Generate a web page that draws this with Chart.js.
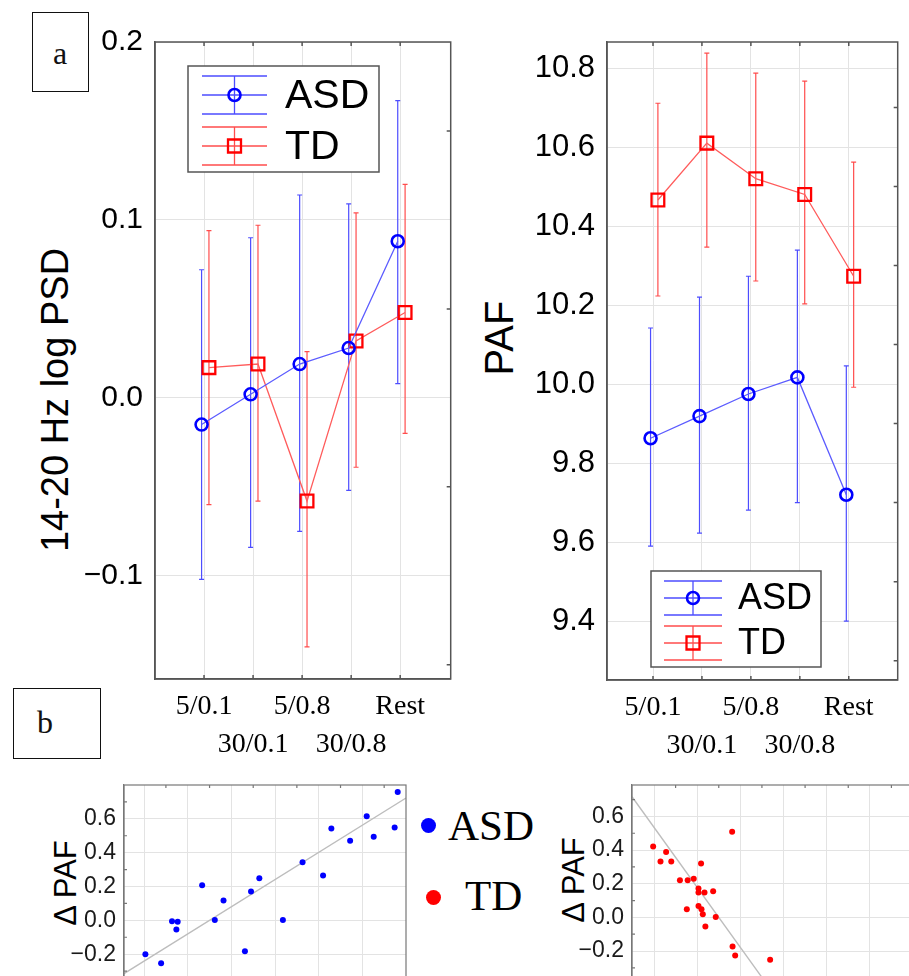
<!DOCTYPE html>
<html>
<head>
<meta charset="utf-8">
<script src="https://cdn.jsdelivr.net/npm/chart.js@4.4.1/dist/chart.umd.min.js"></script>
<style>
  html, body { margin: 0; width: 909px; height: 976px; overflow: hidden; background: #fff; }
  .pos { position: absolute; }
  .tag { position: absolute; box-sizing: border-box; border: 1.5px solid #111; font-family: "Liberation Serif", serif; font-size: 32px; color: #111; }
  .ytitle { position: absolute; transform: translate(-50%, -50%) rotate(-90deg); white-space: nowrap; font-family: "Liberation Sans", Arial, sans-serif; color: #000; line-height: 1; }
  .dot { position: absolute; border-radius: 50%; width: 15px; height: 15px; }
  .lg { position: absolute; font-family: "Liberation Serif", serif; font-size: 43px; line-height: 1; color: #000; }
</style>
</head>
<body>
<div class="tag" style="left:32px;top:12px;width:57px;height:80px;">
  <span style="position:absolute;left:20px;top:22px;">a</span>
</div>
<div class="tag" style="left:13px;top:688px;width:88px;height:71px;">
  <span style="position:absolute;left:23px;top:15px;">b</span>
</div>

<div class="ytitle" style="left:55px;top:400px;font-size:38px;">14-20 Hz log PSD</div>
<div class="ytitle" style="left:499px;top:338px;font-size:40px;">PAF</div>
<div class="ytitle" style="left:65px;top:883px;font-size:31px;">Δ PAF</div>
<div class="ytitle" style="left:573px;top:880px;font-size:31px;">Δ PAF</div>

<div class="dot" style="left:421px;top:818px;background:#0000ff;"></div>
<div class="lg" style="left:448px;top:804px;">ASD</div>
<div class="dot" style="left:426px;top:890px;background:#ff0000;"></div>
<div class="lg" style="left:465px;top:874px;">TD</div>

<canvas id="psdChart" class="pos" style="left:80px;top:0;" width="382" height="760"></canvas>
<canvas id="pafChart" class="pos" style="left:520px;top:0;" width="389" height="760"></canvas>
<canvas id="asdScatter" class="pos" style="left:40px;top:760px;" width="370" height="230"></canvas>
<canvas id="tdScatter" class="pos" style="left:548px;top:760px;" width="369" height="230"></canvas>

<script>
// ---- data ----
const conditions = ['5/0.1', '30/0.1', '5/0.8', '30/0.8', 'Rest'];

const psdAsd     = [-0.015, 0.002, 0.019, 0.028, 0.088];
const psdAsdLow  = [-0.102, -0.084, -0.075, -0.052, 0.008];
const psdAsdHigh = [0.072, 0.090, 0.114, 0.109, 0.167];
const psdTd      = [0.017, 0.019, -0.058, 0.032, 0.048];
const psdTdLow   = [-0.060, -0.058, -0.140, -0.039, -0.020];
const psdTdHigh  = [0.094, 0.097, 0.026, 0.104, 0.120];

const pafAsd     = [9.863, 9.919, 9.975, 10.017, 9.720];
const pafAsdLow  = [9.590, 9.623, 9.681, 9.700, 9.400];
const pafAsdHigh = [10.142, 10.220, 10.273, 10.339, 10.046];
const pafTd      = [10.466, 10.610, 10.520, 10.480, 10.273];
const pafTdLow   = [10.223, 10.347, 10.261, 10.203, 9.992];
const pafTdHigh  = [10.711, 10.838, 10.787, 10.767, 10.562];

const psdTicks  = [-0.1, 0, 0.1, 0.2];
const pafTicks  = [9.4, 9.6, 9.8, 10.0, 10.2, 10.4, 10.6, 10.8];
const dPafTicks = [-0.2, 0, 0.2, 0.4, 0.6];

const asdX = [5.81, 5.10, 4.29, 5.74, 4.72, 5.26, 3.63, 4.10, 2.64, 2.45, 1.33, 1.82, 1.62, 3.18, 0.64, 0.77, 0.74, 2.31, 0.03, 0.39];
const asdY = [0.758, 0.616, 0.543, 0.549, 0.471, 0.494, 0.344, 0.265, 0.249, 0.170, 0.207, 0.118, 0.002, 0.002, -0.006, -0.008, -0.054, -0.182, -0.201, -0.253];
const asdFitX = [-0.46, 6.0];
const asdFitY = [-0.315, 0.723];

const tdX = [-0.02, 0.28, 0.15, 0.40, 1.09, 1.81, 0.60, 0.78, 0.92, 1.03, 1.03, 1.17, 1.37, 0.76, 1.03, 1.10, 1.13, 1.43, 1.19, 1.82, 1.88, 2.69];
const tdY = [0.422, 0.389, 0.332, 0.332, 0.321, 0.509, 0.220, 0.220, 0.229, 0.171, 0.148, 0.148, 0.156, 0.049, 0.068, 0.049, 0.019, 0.002, -0.054, -0.173, -0.226, -0.252];
const tdFitX = [-0.51, 2.5];
const tdFitY = [0.717, -0.357];

// small horizontal dodge so the two groups don't overlap
const asdShift = -0.05;
const tdShift = 0.1;

const fmt = (v, d) => (v < 0 ? '\u2212' : '') + Math.abs(v).toFixed(d);
const pts = (xs, ys) => xs.map((x, i) => ({ x, y: ys[i] }));
const dodge = (vals, shift) => vals.map((y, i) => ({ x: i + 1 + shift, y }));

// ---- plugins ----
const errorBars = {
  id: 'errorBars',
  beforeDatasetsDraw(chart) {
    const ctx = chart.ctx;
    const ys = chart.scales.y;
    chart.data.datasets.forEach((ds, i) => {
      if (!ds.errLow) return;
      const meta = chart.getDatasetMeta(i);
      ctx.save();
      ctx.strokeStyle = ds.errColor;
      ctx.lineWidth = 1.2;
      ctx.beginPath();
      meta.data.forEach((p, j) => {
        const top = ys.getPixelForValue(ds.errHigh[j]);
        const bot = ys.getPixelForValue(ds.errLow[j]);
        ctx.moveTo(p.x, top); ctx.lineTo(p.x, bot);
        ctx.moveTo(p.x - 2.5, top); ctx.lineTo(p.x + 2.5, top);
        ctx.moveTo(p.x - 2.5, bot); ctx.lineTo(p.x + 2.5, bot);
      });
      ctx.stroke();
      ctx.restore();
    });
  }
};

const frame = {
  id: 'frame',
  afterDatasetsDraw(chart, args, o) {
    const { ctx, chartArea: a, scales } = chart;
    const len = o.len || 4;
    ctx.save();
    ctx.strokeStyle = o.color || '#555';
    ctx.lineWidth = o.width || 1.5;
    ctx.strokeRect(a.left, a.top, a.right - a.left, a.bottom - a.top);
    ctx.beginPath();
    (o.top || []).forEach(v => { const x = scales.x.getPixelForValue(v); ctx.moveTo(x, a.top); ctx.lineTo(x, a.top + len); });
    (o.bottom || []).forEach(v => { const x = scales.x.getPixelForValue(v); ctx.moveTo(x, a.bottom); ctx.lineTo(x, a.bottom - len); });
    (o.right || []).forEach(v => { const y = scales.y.getPixelForValue(v); ctx.moveTo(a.right, y); ctx.lineTo(a.right - len, y); });
    (o.left || []).forEach(v => { const y = scales.y.getPixelForValue(v); ctx.moveTo(a.left, y); ctx.lineTo(a.left + len, y); });
    ctx.stroke();
    ctx.restore();
  }
};

// boxed legend drawn inside the plot, like the original figure
const boxLegend = {
  id: 'boxLegend',
  afterDraw(chart, args, o) {
    if (!o.rows) return;
    const ctx = chart.ctx;
    ctx.save();
    ctx.fillStyle = '#fff';
    ctx.fillRect(o.x, o.y, o.w, o.h);
    ctx.strokeStyle = '#555';
    ctx.lineWidth = 1.5;
    ctx.strokeRect(o.x, o.y, o.w, o.h);
    const cx = (o.sx0 + o.sx1) / 2;
    o.rows.forEach(r => {
      const ds = chart.data.datasets[r.ds];
      ctx.strokeStyle = ds.errColor;
      ctx.lineWidth = 1.3;
      ctx.beginPath();
      [-o.cap, 0, o.cap].forEach(d => { ctx.moveTo(o.sx0, r.y + d); ctx.lineTo(o.sx1, r.y + d); });
      ctx.moveTo(cx, r.y - o.cap); ctx.lineTo(cx, r.y + o.cap);
      ctx.stroke();
      ctx.strokeStyle = ds.pointBorderColor;
      ctx.lineWidth = ds.pointBorderWidth;
      ctx.beginPath();
      if (ds.pointStyle === 'rect') ctx.rect(cx - 6.5, r.y - 6.5, 13, 13);
      else ctx.arc(cx, r.y, 6, 0, Math.PI * 2);
      ctx.stroke();
      ctx.fillStyle = '#000';
      ctx.font = o.font;
      ctx.textBaseline = 'alphabetic';
      ctx.fillText(ds.label, o.tx, r.y + o.base);
    });
    ctx.restore();
  }
};

const grid = { color: '#e3e3e3', drawTicks: false, lineWidth: 1 };
const border = { color: '#555', width: 1.5 };

// keep the plot area exactly where the layout padding puts it
const noEdgePadding = s => { s.paddingTop = 0; s.paddingBottom = 0; s.paddingLeft = 0; s.paddingRight = 0; };

function groupDataset(label, values, low, high, shift, style) {
  const blue = style === 'circle';
  return {
    label,
    data: dodge(values, shift),
    errLow: low,
    errHigh: high,
    errColor: blue ? '#4d4dff' : '#ff4d4d',
    borderColor: blue ? '#5c5cff' : '#ff5c5c',
    borderWidth: 1.3,
    showLine: true,
    pointStyle: style,
    pointRadius: blue ? 6 : 9,
    pointBorderWidth: blue ? 2.6 : 2.3,
    pointBorderColor: blue ? '#0000ff' : '#ff0000',
    pointBackgroundColor: 'rgba(0,0,0,0)'
  };
}

function xConditions(min, max, height) {
  return {
    type: 'linear', min, max,
    afterBuildTicks: s => { s.ticks = conditions.map((c, i) => ({ value: i + 1 })); },
    afterFit: s => { s.height = height; noEdgePadding(s); },
    ticks: {
      autoSkip: false, maxRotation: 0, padding: 9, color: '#000',
      font: { family: 'Liberation Serif', size: 28, lineHeight: 1.36 },
      callback: (v, i) => i % 2 === 0 ? [conditions[i]] : ['', conditions[i]]
    },
    grid, border
  };
}

function yFixed(min, max, ticks, digits, width, size, pad) {
  return {
    min, max,
    afterBuildTicks: s => { s.ticks = ticks.map(v => ({ value: v })); },
    afterFit: s => { s.width = width; noEdgePadding(s); },
    ticks: { color: '#000', padding: pad, font: { family: 'Liberation Sans', size }, callback: v => fmt(v, digits) },
    grid, border
  };
}

// ---- a: 14-20 Hz log PSD ----
new Chart(document.getElementById('psdChart'), {
  type: 'scatter',
  data: {
    datasets: [
      groupDataset('ASD', psdAsd, psdAsdLow, psdAsdHigh, asdShift, 'circle'),
      groupDataset('TD', psdTd, psdTdLow, psdTdHigh, tdShift, 'rect')
    ]
  },
  options: {
    responsive: false, animation: false,
    layout: { padding: { top: 42, right: 4, left: 0, bottom: 0 } },
    scales: {
      x: xConditions(0, 6.03, 81),
      y: yFixed(-0.158, 0.2, psdTicks, 1, 75, 30, 12)
    },
    plugins: {
      legend: { display: false }, tooltip: { enabled: false },
      frame: { top: [1, 2, 3, 4, 5], bottom: [1, 2, 3, 4, 5], right: [-0.15, -0.05, 0.05, 0.15] },
      boxLegend: {
        x: 108, y: 66, w: 191, h: 106, sx0: 122, sx1: 187, cap: 19, tx: 205, base: 12.5,
        font: '41px "Liberation Sans"', rows: [{ ds: 0, y: 95 }, { ds: 1, y: 146 }]
      }
    }
  },
  plugins: [errorBars, frame, boxLegend]
});

// ---- a: PAF ----
new Chart(document.getElementById('pafChart'), {
  type: 'scatter',
  data: {
    datasets: [
      groupDataset('ASD', pafAsd, pafAsdLow, pafAsdHigh, asdShift, 'circle'),
      groupDataset('TD', pafTd, pafTdLow, pafTdHigh, tdShift, 'rect')
    ]
  },
  options: {
    responsive: false, animation: false,
    layout: { padding: { top: 42, right: 4, left: 0, bottom: 0 } },
    scales: {
      x: xConditions(0.06, 6.0, 80),
      y: yFixed(9.251, 10.866, pafTicks, 1, 87, 31, 12)
    },
    plugins: {
      legend: { display: false }, tooltip: { enabled: false },
      frame: { top: [1, 2, 3, 4, 5], bottom: [1, 2, 3, 4, 5], right: [9.3, 9.5, 9.7, 9.9, 10.1, 10.3, 10.5, 10.7] },
      boxLegend: {
        x: 131, y: 571, w: 170, h: 96, sx0: 144, sx1: 202, cap: 17, tx: 218, base: 11,
        font: '36px "Liberation Sans"', rows: [{ ds: 0, y: 598 }, { ds: 1, y: 643 }]
      }
    }
  },
  plugins: [errorBars, frame, boxLegend]
});

// ---- b: scatter panels ----
function scatterPanel(id, xs, ys, fitX, fitY, color, xMin, yMin, yMax) {
  new Chart(document.getElementById(id), {
    type: 'scatter',
    data: {
      datasets: [
        { data: pts(xs, ys), pointRadius: 3, pointBackgroundColor: color, pointBorderWidth: 0, order: 1 },
        { type: 'line', data: pts(fitX, fitY), borderColor: '#bdbdbd', borderWidth: 1.4, pointRadius: 0, order: 2 }
      ]
    },
    options: {
      responsive: false, animation: false,
      layout: { padding: { top: 25, right: 4, left: 0, bottom: 0 } },
      scales: {
        x: {
          type: 'linear', min: xMin, max: 6.0,
          afterBuildTicks: s => { s.ticks = [0, 1, 2, 3, 4, 5].map(v => ({ value: v })); },
          afterFit: s => { s.height = 0; noEdgePadding(s); },
          ticks: { display: false },
          grid, border: { color: '#777', width: 1.2 }
        },
        y: {
          min: yMin, max: yMax,
          afterBuildTicks: s => { s.ticks = dPafTicks.map(v => ({ value: v })); },
          afterFit: s => { s.width = 84; noEdgePadding(s); },
          ticks: { color: '#1a1a1a', padding: 8, font: { family: 'Liberation Sans', size: 23 }, callback: v => fmt(v, 1) },
          grid, border: { color: '#777', width: 1.2 }
        }
      },
      plugins: {
        legend: { display: false }, tooltip: { enabled: false },
        frame: { color: '#777', width: 1.2, len: 3, top: [0.5, 1.5, 2.5, 3.5, 4.5, 5.5], left: [-0.3, -0.1, 0.1, 0.3, 0.5, 0.7] }
      }
    },
    plugins: [frame]
  });
}

scatterPanel('asdScatter', asdX, asdY, asdFitX, asdFitY, '#0000ff', -0.46, -0.388, 0.80);
scatterPanel('tdScatter', tdX, tdY, tdFitX, tdFitY, '#ff0000', -0.51, -0.408, 0.787);
</script>
</body>
</html>
